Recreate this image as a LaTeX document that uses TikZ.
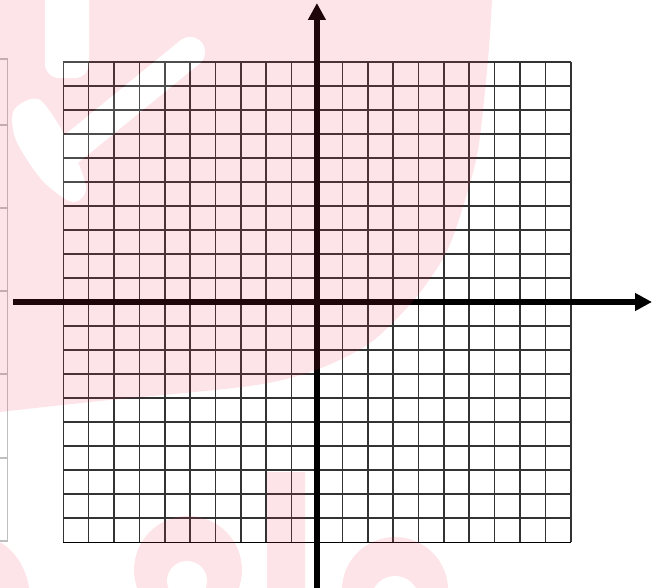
\documentclass[tikz,border=0pt]{standalone}
\usetikzlibrary{arrows.meta}
\usetikzlibrary{positioning}
\definecolor{wmpink}{rgb}{0.94,0.19,0.31}
\tikzset{grid line/.style={draw,black!80,line width=1.6pt}}
\tikzset{axis/.style={draw,line width=5.5pt,-{Triangle[length=17pt,width=17pt]}}}
\tikzset{table line/.style={draw,black!25,line width=1.2pt}}

\begin{document}
\begin{tikzpicture}
      [
      x=1pt,y=-1pt,
      mark layer/.style={transparency group,opacity=0.13},
      ]
      \useasboundingbox (0,0) rectangle (655,588);

      % table edge on the left
      \draw [table line] (7.5,59) -- (7.5,541);
      \foreach \y in {59,125,208,291,374,458,541}
      {
      \draw [table line] (0,\y) -- (7.5,\y);
      }

      % grid
      \foreach \i [evaluate=\i as \x using 63.3+\i*25.37,
                   evaluate=\i as \y using 62+\i*24.015] in {0,...,20}
      {
      \draw [grid line] (\x,62) -- (\x,542.3);
      \draw [grid line] (63.3,\y) -- (570.7,\y);
      }
      \draw [black,line width=1.6pt] (63.3,542.3) -- (570.7,542.3);

      % axes
      \coordinate (xl) at (13,302);
      \coordinate (xr) at (652,302);
      \coordinate (yb) at (316.9,590);
      \coordinate (yt) at (316.9,3);
      \draw [axis] (xl) -- (xr);
      \draw [axis] (yb) -- (yt);

      % watermark
      \begin{scope}[mark layer]
      \fill [wmpink] (0,0) -- (492,0) -- plot [smooth] coordinates
      {(492,0) (488,60) (478,150) (462,210) (445,255) (414,300)
       (370,343) (316,370) (250,386) (100,401) (0,412)} -- cycle;
      \fill [white,rounded corners=14pt] (45,-20) rectangle (89,78);
      \draw [white,line width=30pt,line cap=round] (70,150) -- (190,52);
      \fill [white] plot [smooth cycle] coordinates
      {(14,110) (40,100) (70,145) (86,188) (72,202) (42,180) (16,140)};
      \fill [wmpink] (-20,600) ellipse (50 and 63);
      \fill [wmpink] (188,570) circle (54);
      \fill [white] (187,581) circle (20);
      \fill [wmpink] (267,472) rectangle (305,600);
      \fill [wmpink] (395,590) circle (53);
      \fill [white] (395,600) circle (24);
      \end{scope}

    \end{tikzpicture}
\end{document}
